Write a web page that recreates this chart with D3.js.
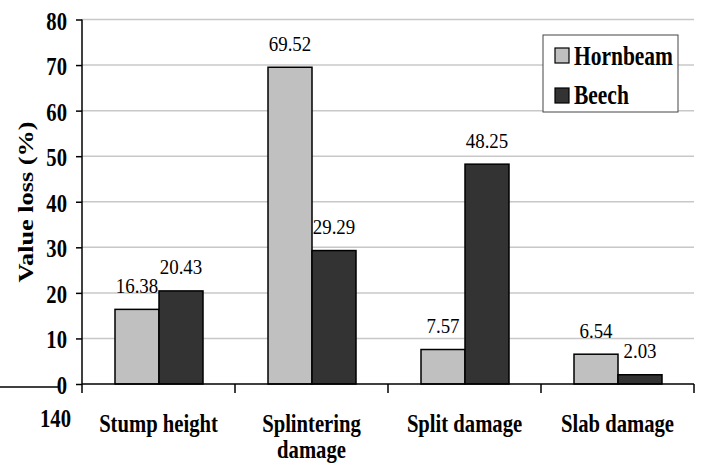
<!DOCTYPE html>
<html>
<head>
<meta charset="utf-8">
<script src="https://cdn.jsdelivr.net/npm/d3@7/dist/d3.min.js"></script>
<style>
  html, body { margin: 0; padding: 0; background: #fff; }
  svg { display: block; }
  text { font-family: "Liberation Serif", "Times New Roman", serif; fill: #000; }
</style>
</head>
<body>
<svg id="chart" width="701" height="465"></svg>
<script>
// Value loss by damage type for two species
const categories = [["Stump height"], ["Splintering", "damage"], ["Split damage"], ["Slab damage"]];
const seriesNames = ["Hornbeam", "Beech"];
const hornbeam = [16.38, 69.52, 7.57, 6.54];
const beech = [20.43, 29.29, 48.25, 2.03];
const yTicks = [0, 10, 20, 30, 40, 50, 60, 70, 80];
const colors = ["#c0c0c0", "#333333"];

const svg = d3.select("#chart");
const plotLeft = 82, plotRight = 694, plotTop = 19.5, plotBottom = 384;

const y = d3.scaleLinear().domain([0, 80]).range([plotBottom, plotTop]);
const x0 = d3.scaleBand().domain(d3.range(categories.length)).range([plotLeft, plotRight]);
const x1 = d3.scaleBand().domain(seriesNames).range([33, 121]);

const boldSX = 0.81, valSX = 0.86;

function place(sel, xx, yy, sx) {
  return sel.attr("transform", `translate(${xx},${yy}) scale(${sx},1)`);
}

// gridlines
svg.append("g").selectAll("line")
  .data(yTicks.filter(d => d > 0))
  .join("line")
  .attr("x1", plotLeft).attr("x2", plotRight)
  .attr("y1", d => y(d)).attr("y2", d => y(d))
  .attr("stroke", "#c8c8c8").attr("stroke-width", 1.5);

// y axis
const yAxis = svg.append("g").attr("transform", `translate(${plotLeft},0)`)
  .call(d3.axisLeft(y).tickValues(yTicks).tickSize(6).tickPadding(0).tickFormat(d3.format("d")));
yAxis.select(".domain").attr("stroke", "#000").attr("stroke-width", 1.5).attr("d", `M0,${plotTop}V${plotBottom}`);
yAxis.selectAll(".tick line").attr("stroke", "#000").attr("stroke-width", 1.5);
yAxis.selectAll(".tick text")
  .attr("x", null).attr("dy", null)
  .style("font-size", "25.5px").style("font-weight", "bold")
  .attr("text-anchor", "end")
  .attr("transform", `translate(-15,9.5) scale(${boldSX},1)`);

// bars
const groups = svg.append("g").selectAll("g")
  .data(categories.map((c, i) => i))
  .join("g")
  .attr("transform", i => `translate(${x0(i)},0)`);

const barData = i => [
  { s: seriesNames[0], v: hornbeam[i], c: colors[0] },
  { s: seriesNames[1], v: beech[i], c: colors[1] }
];

groups.selectAll("rect")
  .data(barData)
  .join("rect")
  .attr("x", d => x1(d.s))
  .attr("width", x1.bandwidth())
  .attr("y", d => y(d.v))
  .attr("height", d => plotBottom - y(d.v))
  .attr("fill", d => d.c)
  .attr("stroke", "#000").attr("stroke-width", 1.5);

groups.selectAll("text.val")
  .data(barData)
  .join("text")
  .attr("class", "val")
  .style("font-size", "22px")
  .attr("text-anchor", "middle")
  .each(function(d) {
    place(d3.select(this), x1(d.s) + x1.bandwidth() / 2, y(d.v) - 16.5, valSX);
  })
  .text(d => d.v.toFixed(2));

// x axis
svg.append("line")
  .attr("x1", plotLeft).attr("x2", plotRight).attr("y1", plotBottom).attr("y2", plotBottom)
  .attr("stroke", "#000").attr("stroke-width", 1.5);
svg.append("g").selectAll("line")
  .data(d3.range(categories.length + 1))
  .join("line")
  .attr("x1", i => plotLeft + i * x0.bandwidth()).attr("x2", i => plotLeft + i * x0.bandwidth())
  .attr("y1", plotBottom).attr("y2", plotBottom + 9)
  .attr("stroke", "#000").attr("stroke-width", 1.5);

// category labels
categories.forEach((lines, i) => {
  lines.forEach((ln, k) => {
    place(svg.append("text"), x0(i) + x0.bandwidth() / 2, 431.5 + k * 26, boldSX)
      .attr("text-anchor", "middle")
      .style("font-size", "25.5px").style("font-weight", "bold")
      .text(ln);
  });
});

// stray baseline segment and label at lower left
svg.append("line")
  .attr("x1", 0).attr("x2", 58).attr("y1", 387).attr("y2", 387)
  .attr("stroke", "#000").attr("stroke-width", 1.5);
place(svg.append("text"), 40, 427, boldSX)
  .style("font-size", "25.5px").style("font-weight", "bold")
  .text("140");

// y axis title
svg.append("text")
  .attr("transform", "translate(33,202) rotate(-90) scale(1.25,1)")
  .attr("text-anchor", "middle")
  .style("font-size", "21px").style("font-weight", "bold")
  .text("Value loss (%)");

// legend
const lg = svg.append("g");
lg.append("rect")
  .attr("x", 543).attr("y", 35).attr("width", 135).attr("height", 77)
  .attr("fill", "#fff").attr("stroke", "#444").attr("stroke-width", 1);
seriesNames.forEach((s, i) => {
  lg.append("rect")
    .attr("x", 555).attr("y", 48 + i * 40).attr("width", 14).attr("height", 15)
    .attr("fill", colors[i]).attr("stroke", "#000").attr("stroke-width", 1.2);
  place(lg.append("text"), 574, 65 + i * 38.5, boldSX)
    .style("font-size", "26.5px").style("font-weight", "bold")
    .text(s);
});
</script>
</body>
</html>
